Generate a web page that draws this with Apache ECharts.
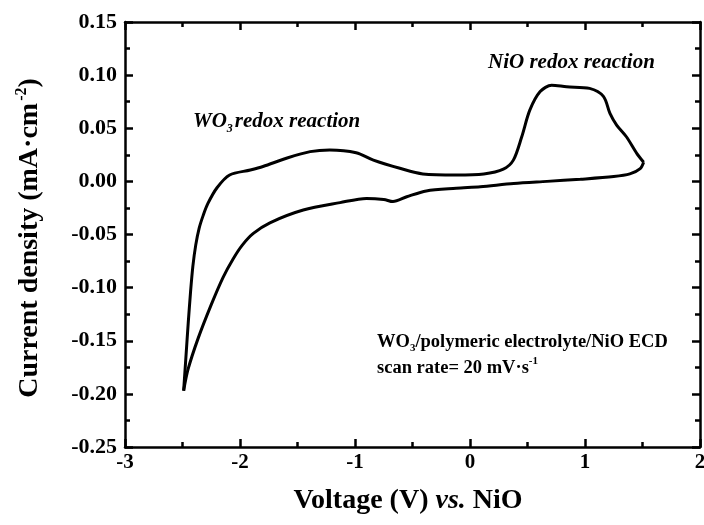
<!DOCTYPE html>
<html>
<head>
<meta charset="utf-8">
<script src="https://cdn.jsdelivr.net/npm/echarts@6/dist/echarts.min.js"></script>
<style>html,body{margin:0;padding:0;background:#fff;}#c{width:704px;height:525px;}</style>
</head>
<body>
<div id="c"></div>
<script>
// Cathodic sweep (from +1.5 V down to -2.5 V)
const cathodicV = [1.51, 1.48, 1.39, 1.25, 0.96, 0.67, 0.38, 0.09, -0.12, -0.38, -0.55, -0.67, -0.75, -0.90, -1.13, -1.45, -1.74, -1.884, -1.98, -2.06, -2.148, -2.25, -2.365, -2.452, -2.49];
const cathodicI = [0.018, 0.012, 0.007, 0.0045, 0.002, 0.0, -0.002, -0.005, -0.0065, -0.009, -0.0145, -0.019, -0.017, -0.016, -0.020, -0.027, -0.039, -0.049, -0.060, -0.073, -0.0905, -0.116, -0.148, -0.177, -0.197];
// Anodic sweep (from -2.5 V back to +1.5 V)
const anodicV = [-2.49, -2.47, -2.45, -2.43, -2.41, -2.385, -2.355, -2.32, -2.28, -2.20, -2.09, -1.91, -1.80, -1.59, -1.39, -1.22, -0.99, -0.84, -0.61, -0.41, -0.12, 0.12, 0.29, 0.377, 0.45, 0.52, 0.61, 0.71, 0.84, 1.04, 1.16, 1.217, 1.275, 1.36, 1.45, 1.51];
const anodicI = [-0.197, -0.165, -0.133, -0.104, -0.080, -0.060, -0.044, -0.032, -0.021, -0.006, 0.006, 0.0107, 0.014, 0.022, 0.028, 0.0296, 0.027, 0.020, 0.0123, 0.007, 0.006, 0.007, 0.0115, 0.020, 0.042, 0.067, 0.0845, 0.0905, 0.089, 0.0875, 0.080, 0.064, 0.053, 0.042, 0.0264, 0.018];

const xTicks = {min: -3, max: 2, interval: 1};
const yTicks = {min: -0.25, max: 0.15, interval: 0.05};

const annotations = {
  wo3: 'WO{sub|3}redox reaction',
  nio: 'NiO redox reaction',
  device: 'WO{sub|3}/polymeric electrolyte/NiO ECD',
  rate: 'scan rate= 20 mV·s{sup|-1}'
};

const FONT = '"Liberation Serif", "Times New Roman", serif';
const pair = (xs, ys) => xs.map((x, i) => [x, ys[i]]);

const chart = echarts.init(document.getElementById('c'), null, {renderer: 'canvas'});

const axisCommon = {
  axisLine: {show: true, onZero: false, lineStyle: {color: '#000', width: 2.5}},
  axisTick: {show: true, inside: true, length: 8, lineStyle: {color: '#000', width: 2.5}},
  minorTick: {show: true, splitNumber: 2, length: 5, lineStyle: {color: '#000', width: 2.5}},
  splitLine: {show: false},
  minorSplitLine: {show: false}
};

chart.setOption({
  animation: false,
  backgroundColor: '#fff',
  grid: {left: 125, right: 4, top: 22, bottom: 78, containLabel: false, outerBoundsMode: 'none'},
  xAxis: [
    Object.assign({}, axisCommon, {
      type: 'value', position: 'bottom', min: xTicks.min, max: xTicks.max, interval: xTicks.interval,
      axisLabel: {color: '#000', fontFamily: FONT, fontWeight: 'bold', fontSize: 21, margin: 5,
        formatter: v => String(v)}
    }),
    Object.assign({}, axisCommon, {
      type: 'value', position: 'top', min: xTicks.min, max: xTicks.max, interval: xTicks.interval,
      axisLabel: {show: false}
    })
  ],
  yAxis: [
    Object.assign({}, axisCommon, {
      type: 'value', position: 'left', min: yTicks.min, max: yTicks.max, interval: yTicks.interval,
      axisLabel: {color: '#000', fontFamily: FONT, fontWeight: 'bold', fontSize: 22, margin: 8,
        formatter: v => v.toFixed(2)}
    }),
    Object.assign({}, axisCommon, {
      type: 'value', position: 'right', min: yTicks.min, max: yTicks.max, interval: yTicks.interval,
      axisLabel: {show: false}
    })
  ],
  series: [
    {type: 'line', data: pair(cathodicV, cathodicI), smooth: 0.3, showSymbol: false, symbol: 'none',
     lineStyle: {color: '#000', width: 3}, xAxisIndex: 0, yAxisIndex: 0},
    {type: 'line', data: pair(anodicV, anodicI), smooth: 0.3, showSymbol: false, symbol: 'none',
     lineStyle: {color: '#000', width: 3}, xAxisIndex: 0, yAxisIndex: 0}
  ],
  graphic: [
    {type: 'text', x: 30, y: 238, rotation: Math.PI / 2,
     style: {text: 'Current density (mA·cm{sup|-2})', fill: '#000', font: 'bold 28px ' + FONT,
       align: 'center', verticalAlign: 'middle',
       rich: {sup: {fontSize: 16, fontWeight: 'bold', fontFamily: FONT, verticalAlign: 'top', lineHeight: 32, padding: [0, 0, 0, 2]}}}},
    {type: 'text', x: 408, y: 501,
     style: {text: 'Voltage (V) {it|vs.} NiO', fill: '#000', font: 'bold 28px ' + FONT,
       align: 'center', verticalAlign: 'middle',
       rich: {it: {fontSize: 28, fontWeight: 'bold', fontStyle: 'italic', fontFamily: FONT}}}},
    {type: 'text', x: 193, y: 122,
     style: {text: annotations.wo3, fill: '#000', font: 'italic bold 21px ' + FONT,
       align: 'left', verticalAlign: 'middle',
       rich: {sub: {fontSize: 12, fontStyle: 'italic', fontWeight: 'bold', fontFamily: FONT, verticalAlign: 'bottom', lineHeight: 26, padding: [0, 2, 0, 0]}}}},
    {type: 'text', x: 488, y: 63,
     style: {text: annotations.nio, fill: '#000', font: 'italic bold 21px ' + FONT,
       align: 'left', verticalAlign: 'middle'}},
    {type: 'text', x: 377, y: 342,
     style: {text: annotations.device, fill: '#000', font: 'bold 18.5px ' + FONT,
       align: 'left', verticalAlign: 'middle',
       rich: {sub: {fontSize: 11, fontWeight: 'bold', fontFamily: FONT, verticalAlign: 'bottom', lineHeight: 24}}}},
    {type: 'text', x: 377, y: 368,
     style: {text: annotations.rate, fill: '#000', font: 'bold 18.5px ' + FONT,
       align: 'left', verticalAlign: 'middle',
       rich: {sup: {fontSize: 11, fontWeight: 'bold', fontFamily: FONT, verticalAlign: 'top', lineHeight: 24}}}}
  ]
});
</script>
</body>
</html>
